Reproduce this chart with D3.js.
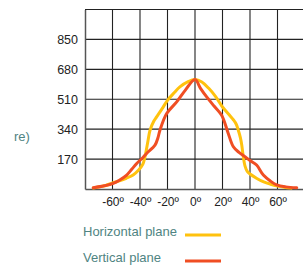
<!DOCTYPE html>
<html>
<head>
<meta charset="utf-8">
<script src="https://cdn.jsdelivr.net/npm/d3@7"></script>
<style>
  body { margin: 0; background: #fff; overflow: hidden; }
  svg { display: block; }
</style>
</head>
<body>
<script>
"use strict"

const w = 303;
const h = 265;

// data
const xTicks = [-60, -40, -20, 0, 20, 40, 60];
const yTicks = [170, 340, 510, 680, 850];

const horizDeg = [-74, -65, -60, -55, -50, -45, -41, -38, -36.4, -34.5, -32.7, -30, -27.9, -24, -20, -15, -11, -5, 0, 5, 10, 15, 20, 25, 28, 30, 31.5, 33, 34, 35, 36.4, 38, 40, 45, 50, 55, 60, 65, 70];
const horizVal = [6, 20, 34, 46, 61, 80, 108, 140, 183, 260, 334, 385, 410, 455, 504, 548, 580, 610, 622, 608, 572, 525, 466, 420, 392, 368, 334, 292, 250, 190, 130, 100, 85, 60, 40, 27, 17, 10, 5];

const vertDeg = [-74, -66, -59.4, -55, -49.7, -46, -42.4, -38, -35.2, -29.1, -27, -25.5, -20.6, -13.3, -7, 0, 4, 8.5, 14, 19.4, 24, 27.9, 32, 36.4, 40, 44.8, 49.7, 55, 59.4, 66, 74];
const vertVal = [7, 18, 32, 50, 79, 112, 145, 178, 202, 249, 290, 334, 429, 495, 562, 622, 572, 523, 470, 419, 320, 240, 208, 183, 162, 136, 79, 44, 23, 12, 7];

const series = [
  { name: 'Horizontal plane', deg: horizDeg, val: horizVal, color: '#ffc20e' },
  { name: 'Vertical plane', deg: vertDeg, val: vertVal, color: '#f04e23' }
];

const svg = d3.select('body')
  .append('svg')
  .attr('width', w)
  .attr('height', h);

const xScale = d3.scaleLinear().domain([-80, 80]).range([85, 305]);
const yScale = d3.scaleLinear().domain([0, 1020]).range([189, 9.5]);

// grid
svg.append('g')
  .selectAll('line')
  .data(d3.range(-60, 81, 20))
  .enter()
  .append('line')
  .attr('x1', d => xScale(d))
  .attr('x2', d => xScale(d))
  .attr('y1', yScale(1020))
  .attr('y2', yScale(0))
  .attr('stroke', '#222')
  .attr('stroke-width', 1.1);

svg.append('g')
  .selectAll('line')
  .data(yTicks.concat([1020]))
  .enter()
  .append('line')
  .attr('x1', xScale(-80))
  .attr('x2', w)
  .attr('y1', d => yScale(d))
  .attr('y2', d => yScale(d))
  .attr('stroke', '#222')
  .attr('stroke-width', 1.1);

// axes (frame on left and bottom)
const yAxis = d3.axisLeft(yScale).tickValues(yTicks).tickSize(0).tickPadding(7);
const xAxis = d3.axisBottom(xScale).tickValues(xTicks).tickSize(0).tickPadding(8)
  .tickFormat(d => d + 'º');

svg.append('g')
  .attr('transform', 'translate(' + xScale(-80) + ',0)')
  .call(yAxis)
  .call(g => g.select('.domain').attr('stroke', '#555').attr('stroke-width', 1.5))
  .call(g => g.selectAll('text').attr('font-size', 12.5).attr('fill', '#222'));

svg.append('g')
  .attr('transform', 'translate(0,' + yScale(0) + ')')
  .call(xAxis)
  .call(g => g.select('.domain').attr('stroke', '#555').attr('stroke-width', 1.5))
  .call(g => g.selectAll('text').attr('font-size', 12).attr('fill', '#222'));

svg.selectAll('.tick text').attr('font-family', 'Liberation Sans, Arial, sans-serif');

// curves
const line = d3.line()
  .x(d => xScale(d[0]))
  .y(d => yScale(d[1]))
  .curve(d3.curveCatmullRom.alpha(0.5));

svg.append('g')
  .selectAll('path')
  .data(series)
  .enter()
  .append('path')
  .attr('d', s => line(d3.zip(s.deg, s.val)))
  .attr('fill', 'none')
  .attr('stroke', s => s.color)
  .attr('stroke-width', 3)
  .attr('stroke-linejoin', 'round')
  .attr('stroke-linecap', 'round');

// cut-off axis title
svg.append('text')
  .attr('x', 14)
  .attr('y', 141)
  .attr('font-family', 'Liberation Sans, Arial, sans-serif')
  .attr('font-size', 13)
  .attr('fill', '#4f8482')
  .text('re)');

// legend
const legend = svg.append('g').attr('id', 'legend');
const items = legend.selectAll('g')
  .data(series)
  .enter()
  .append('g')
  .attr('transform', (d, i) => 'translate(0,' + (236 + i * 26) + ')');

items.append('text')
  .attr('x', 83)
  .attr('y', 0)
  .attr('font-family', 'Liberation Sans, Arial, sans-serif')
  .attr('font-size', 13)
  .attr('fill', '#4f8482')
  .text(d => d.name);

items.append('line')
  .attr('x1', 185)
  .attr('x2', 221)
  .attr('y1', -1)
  .attr('y2', -1)
  .attr('stroke', d => d.color)
  .attr('stroke-width', 3);
</script>
</body>
</html>
